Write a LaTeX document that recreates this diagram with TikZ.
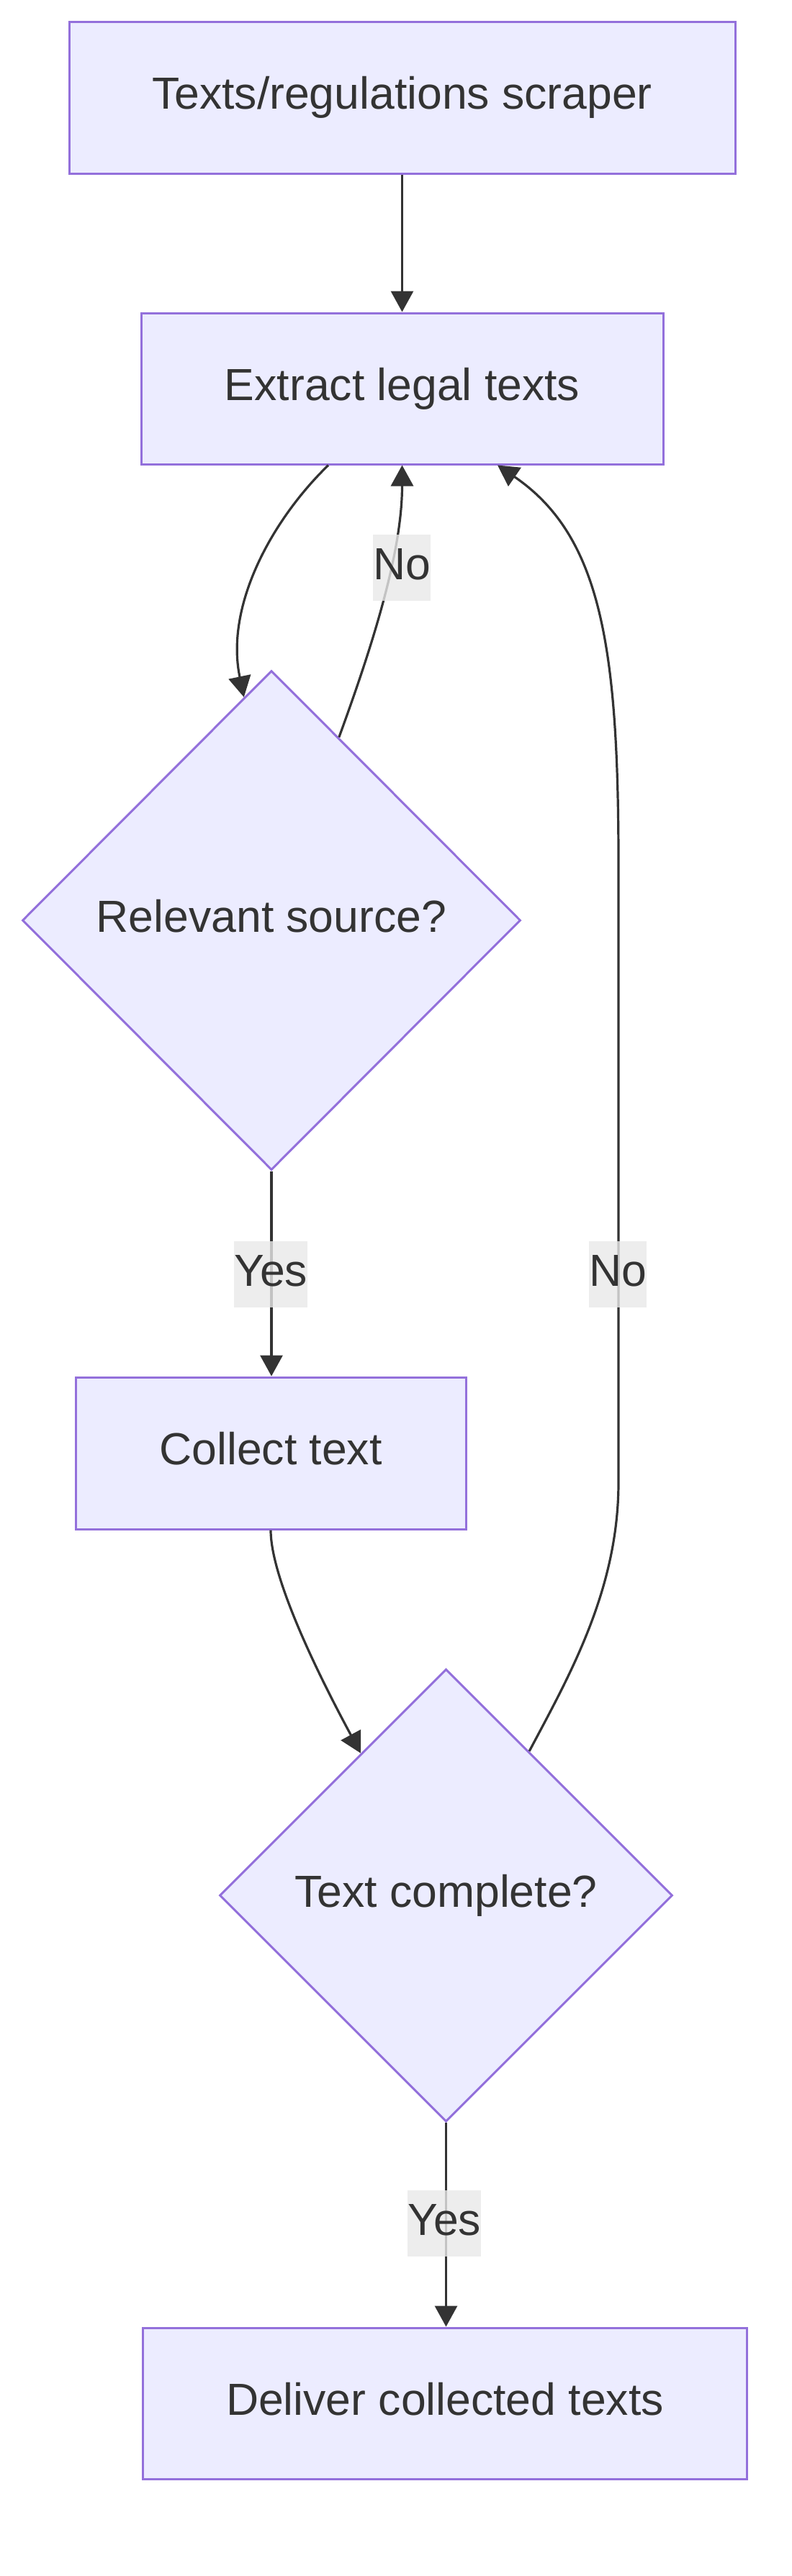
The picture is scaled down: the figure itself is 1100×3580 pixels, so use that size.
\documentclass[tikz,border=0pt]{standalone}
\usepackage{fontspec}
\setmainfont{Liberation Sans}
\usetikzlibrary{shapes.geometric,arrows.meta,calc}
\definecolor{nodefill}{HTML}{ECECFF}
\definecolor{nodeline}{HTML}{9370DB}
\definecolor{ink}{HTML}{333333}
\definecolor{lblbg}{HTML}{E8E8E8}
\begin{document}
\begin{tikzpicture}[x=1pt,y=-1pt,
  every node/.style={font=\fontsize{62.5}{75}\selectfont, text=ink},
  procbox/.style={rectangle, draw=nodeline, fill=nodefill, line width=3pt, inner sep=0pt, text height=45pt, text depth=13pt},
  decision/.style={diamond, aspect=1, draw=nodeline, fill=nodefill, line width=3pt, inner sep=0pt, text height=45pt, text depth=13pt},
  flow/.style={draw=ink, line width=3.2pt, -{Triangle[length=29pt,width=31pt]}},
  lbl/.style={fill=lblbg, fill opacity=0.8, text opacity=1, inner xsep=0pt, inner ysep=0pt, minimum height=92pt, text height=45pt, text depth=13pt}
]
\useasboundingbox (0,0) rectangle (1100,3580);

\node[procbox, minimum width=925pt, minimum height=211pt] (scraper) at (558.5,135.5) {Texts/regulations scraper};
\node[procbox, minimum width=725pt, minimum height=210pt] (extract) at (558.5,540) {Extract legal texts};
\node[decision, minimum width=692pt, minimum height=694pt] (relevant) at (377,1279) {Relevant source?};
\node[procbox, minimum width=542pt, minimum height=211pt] (collect) at (376,2019.5) {Collect text};
\node[decision, minimum width=629pt, minimum height=629pt] (complete) at (619.5,2634) {Text complete?};
\node[procbox, minimum width=839pt, minimum height=210pt] (deliver) at (618,3340) {Deliver collected texts};

\draw[flow] (scraper) -- (extract);
\draw[flow] ([xshift=-102.5pt]extract.south) .. controls (380,720) and (312,840) .. ($(relevant.north)!0.11!(relevant.west)$);
\draw[flow] ($(relevant.north)!0.27!(relevant.east)$) .. controls (520,890) and (558.5,765) .. (extract.south);
\draw[flow] (relevant.south) -- (relevant.south |- collect.north);
\draw[flow] (collect.south) .. controls (376,2200) and (457,2355) .. ($(complete.north)!0.375!(complete.west)$);
\draw[flow] ($(complete.north)!0.366!(complete.east)$) .. controls (790,2330) and (859,2210) .. (859,2060) -- (859,1200) .. controls (859,900) and (835,745) .. ([xshift=132.5pt]extract.south);
\draw[flow] (complete.south) -- (complete.south |- deliver.north);

\node[lbl] (no1) at (558,789) {No};
\node[lbl] (yes1) at (376,1771) {Yes};
\node[lbl] (no2) at (858,1771) {No};
\node[lbl] (yes2) at (617,3090) {Yes};
\end{tikzpicture}
\end{document}
